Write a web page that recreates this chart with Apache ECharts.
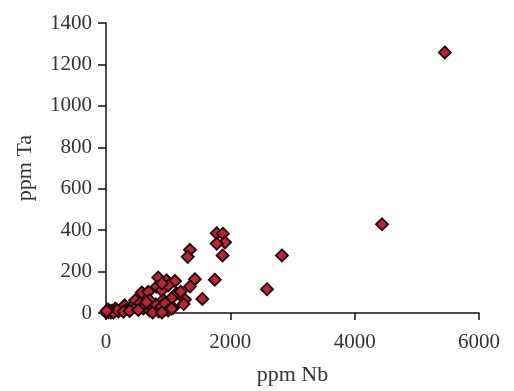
<!DOCTYPE html>
<html>
<head>
<meta charset="utf-8">
<script src="https://cdn.jsdelivr.net/npm/echarts@6/dist/echarts.min.js"></script>
<style>html,body{margin:0;padding:0;background:#fff}#c{width:514px;height:391px}</style>
</head>
<body>
<div id="c"></div>
<script>
var nbValues = [5450,4440,2830,2590,1780,1880,1915,1780,1875,1750,1350,1315,1430,1350,1270,1550,840,975,1110,815,575,1135,1055,920,1080,735,895,680,1000,900,1200,1250,
  0,20,40,60,80,100,150,200,250,300,350,400,450,470,500,550,600,630,700,760,800,850,895,950,1000,1056,700,650,120,180,30,10,280,380,520,750,900];
var taValues = [1258,428,278,115,385,383,341,335,278,161,305,271,163,128,65,68,171,158,155,127,99,95,71,63,25,46,110,102,133,143,103,43,
  2,7,4,10,2,12,21,7,17,37,22,27,42,61,32,47,22,37,12,21,42,7,31,47,12,21,62,52,2,14,17,10,6,10,14,2,3];
var xTicks = [0,2000,4000,6000];
var yTicks = [0,200,400,600,800,1000,1200,1400];

var pts = nbValues.map(function(v,i){return [v, taValues[i]];});
var font = 'Liberation Serif';
var chart = echarts.init(document.getElementById('c'));
chart.setOption({
  animation:false,
  backgroundColor:'#fff',
  grid:{left:106,right:35,top:23,bottom:76,containLabel:false},
  xAxis:{type:'value',min:xTicks[0],max:xTicks[xTicks.length-1],interval:2000,
    name:'ppm Nb',nameLocation:'middle',nameGap:51,
    nameTextStyle:{fontFamily:font,fontSize:22,color:'#333'},
    axisLine:{show:true,lineStyle:{color:'#111',width:1.5}},
    axisTick:{show:true,inside:false,length:7,lineStyle:{color:'#111',width:1.5}},
    axisLabel:{fontFamily:font,fontSize:21,color:'#333',margin:19,formatter:function(v){return String(v);}},
    splitLine:{show:false}},
  yAxis:{type:'value',min:yTicks[0],max:yTicks[yTicks.length-1],interval:200,
    name:'ppm Ta',nameLocation:'middle',nameGap:70,
    nameTextStyle:{fontFamily:font,fontSize:22,color:'#333'},
    axisLine:{show:true,lineStyle:{color:'#111',width:1.5}},
    axisTick:{show:true,inside:false,length:8,lineStyle:{color:'#111',width:1.5}},
    axisLabel:{fontFamily:font,fontSize:21,color:'#333',margin:14,formatter:function(v){return String(v);}},
    splitLine:{show:false}},
  series:[{type:'scatter',data:pts,symbol:'diamond',symbolSize:12,
    itemStyle:{color:'#b82535',borderColor:'#220606',borderWidth:1.8,opacity:1}}]
});
</script>
</body>
</html>
